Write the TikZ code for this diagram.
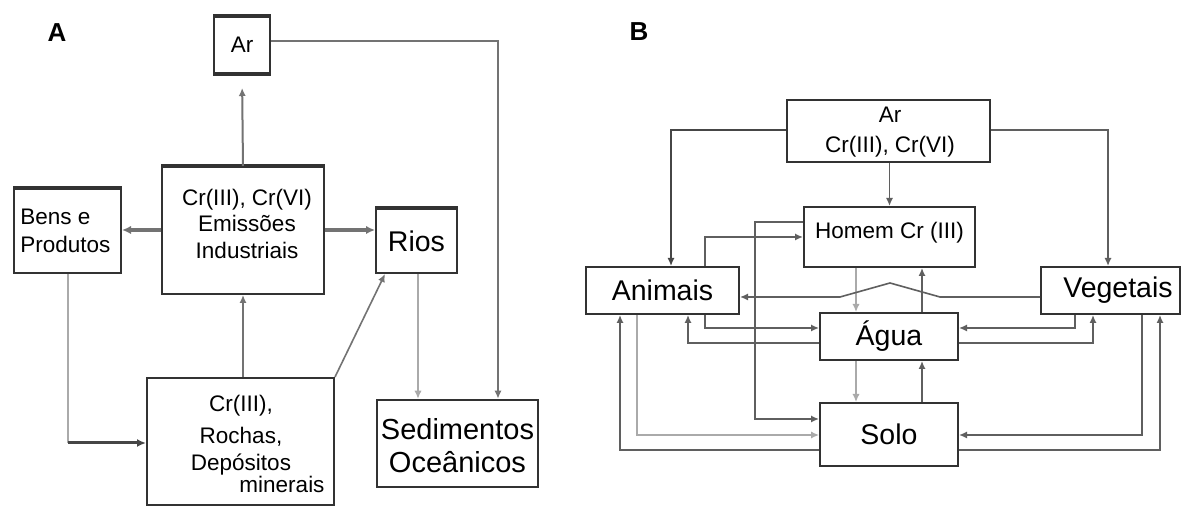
\documentclass[tikz,border=0pt]{standalone}
\usepackage{fontspec}
\setmainfont{Liberation Sans}
\usetikzlibrary{arrows.meta}
\definecolor{bx}{RGB}{50,50,50}
\definecolor{lnd}{RGB}{70,70,70}
\definecolor{ln}{RGB}{95,95,95}
\definecolor{lnm}{RGB}{115,115,115}
\definecolor{lnl}{RGB}{170,170,170}
\tikzset{
  box/.style={draw=bx, line width=1pt, fill=white, inner sep=0pt, font=\fontsize{11.25}{13.5}\selectfont},
  bigtxt/.style={font=\fontsize{14.25}{16.5}\selectfont},
  txt/.style={inner sep=0pt, font=\fontsize{11.25}{13.25}\selectfont},
  lbl/.style={inner sep=0pt, font=\bfseries\fontsize{13}{15}\selectfont},
  topedge/.style={draw=bx, line width=2pt},
  arr/.style={-{Latex[length=4pt,width=3.6pt]}},
  cA/.style={arr, draw=lnm, line width=1pt},
  cAthick/.style={-{Latex[length=4.5pt,width=4.2pt]}, draw=lnm, line width=2pt},
  cAhoriz/.style={-{Latex[length=4.5pt,width=4pt]}, draw=lnd, line width=1.5pt},
  cAthin/.style={arr, draw=lnl, line width=0.6pt},
  lnthin/.style={draw=lnl, line width=0.6pt},
  cAdiag/.style={arr, draw=lnm, line width=0.8pt},
  cB/.style={arr, draw=ln, line width=0.8pt},
  cBthick/.style={arr, draw=lnd, line width=1.4pt},
  cBl/.style={arr, draw=lnl, line width=0.7pt}
}
\begin{document}
\begin{tikzpicture}[x=0.5pt,y=-0.5pt]
\fill[white] (0,0) rectangle (1184,506);
\useasboundingbox (0,0) rectangle (1184,506);

% ---------------- Panel A ----------------
\node[lbl] (labA) at (57,33) {A};
\node[box, minimum width=28pt, minimum height=28pt] (arA) at (242,45) {Ar};
\node[box, minimum width=81pt, minimum height=63.5pt] (emi) at (243,230.5) {};
\node[txt, align=center] (emitxt) at (247,223.5) {Cr(III), Cr(VI)\\Emissões\\Industriais};
\node[box, minimum width=53.5pt, minimum height=42pt] (bens) at (67.5,231) {};
\node[txt, align=left, anchor=west, font=\fontsize{11.25}{14}\selectfont] (benstxt) at (20,231) {Bens e\\Produtos};
\node[box, bigtxt, minimum width=40.5pt, minimum height=32pt] (rios) at (416.5,241) {Rios};
\node[box, minimum width=93.5pt, minimum height=63.5pt] (roc) at (240.5,441.5) {};
\node[txt, align=center] (roctxt) at (241,444) {Cr(III),\\[2.5pt]Rochas,\\[0.5pt]Depósitos\hspace*{28pt}\\[-2.5pt]\hspace*{41pt}minerais};
\node[box, line width=1.3pt, minimum width=80.5pt, minimum height=43.5pt] (sed) at (457.5,443.5) {};
\node[txt, align=center, font=\fontsize{14.5}{16.5}\selectfont] (sedtxt) at (457.5,446) {Sedimentos\\Oceânicos};

\draw[topedge] (arA.north west) -- (arA.north east);
\draw[topedge] (arA.south west) -- (arA.south east);
\draw[topedge] (bens.north west) -- (bens.north east);
\draw[topedge] (rios.north west) -- (rios.north east);
\draw[topedge] (emi.north west) -- (emi.north east);

\draw[cA, shorten >=7pt] (emi.north) -- (arA.south);
\draw[cAthick] (emi.west |- 0,230) -- (bens.east |- 0,230);
\draw[cAthick] (emi.east |- 0,230) -- (rios.west |- 0,230);
\draw[cA] (0,41 -| arA.east) -| (498,0 |- sed.north);
\draw[cAthin] (418,0 |- rios.south) -- (418,0 |- sed.north);
\draw[cA] (243,0 |- roc.north) -- (243,0 |- emi.south);
\coordinate (bc) at (68,443);
\draw[lnthin] (68,0 |- bens.south) -- (bc);
\draw[cAhoriz] (bc) -- (0,443 -| roc.west);
\draw[cAdiag] (roc.north east) -- (385,0 |- rios.south);

% ---------------- Panel B ----------------
\node[lbl] (labB) at (639,32) {B};
\node[box, minimum width=101.5pt, minimum height=31pt] (arB) at (888.5,131) {};
\node[txt, align=center, font=\fontsize{11.25}{15}\selectfont] (arBtxt) at (890,132) {Ar\\Cr(III), Cr(VI)};
\node[box, minimum width=85.5pt, minimum height=30pt] (hom) at (889.5,237) {};
\node[txt] (homtxt) at (889.5,233) {Homem Cr (III)};
\node[box, bigtxt, minimum width=76.5pt, minimum height=23.5pt] (ani) at (662.5,290.5) {Animais};
\node[box, minimum width=69.5pt, minimum height=23.5pt] (veg) at (1110.5,290.5) {};
\node[txt, bigtxt] (vegtxt) at (1118,290) {Vegetais};
\node[box, bigtxt, minimum width=69pt, minimum height=23.5pt] (agu) at (889,336.5) {Água};
\node[box, bigtxt, minimum width=69pt, minimum height=31.5pt] (solo) at (889,434.5) {Solo};

\draw[cBthick] (arB.west |- 0,130) -| (671,0 |- ani.north);
\draw[cB] (arB.east |- 0,130) -| (1108,0 |- veg.north);
\draw[cB] (arB.south -| hom.north) -- (hom.north);
\draw[cBl] (856,0 |- hom.south) -- (856,0 |- agu.north);
\draw[cB] (922,0 |- agu.north) -- (922,0 |- hom.south);
\draw[cB] (922,0 |- solo.north) -- (922,0 |- agu.south);
\draw[cBl] (856,0 |- agu.south) -- (856,0 |- solo.north);
\draw[cB] (0,222 -| hom.west) -| (755,419) -- (0,419 -| solo.west);
\draw[cB] (705,0 |- ani.north) |- (0,237 -| hom.west);
\draw[cB] (705,0 |- ani.south) |- (0,328 -| agu.west);
\draw[cB] (0,343 -| agu.west) -| (688,0 |- ani.south);
\draw[cB] (1075,0 |- veg.south) |- (0,328 -| agu.east);
\draw[cB] (0,343 -| agu.east) -| (1093,0 |- veg.south);
\draw[cBl] (637,0 |- ani.south) |- (0,435 -| solo.west);
\draw[cB] (0,450 -| solo.west) -| (620,0 |- ani.south);
\draw[cB] (1142,0 |- veg.south) |- (0,435 -| solo.east);
\draw[cB] (0,450 -| solo.east) -| (1160,0 |- veg.south);
\draw[cB] (0,297 -| veg.west) -- (940,297) -- (890,283) -- (840,297) -- (0,297 -| ani.east);
\end{tikzpicture}
\end{document}
